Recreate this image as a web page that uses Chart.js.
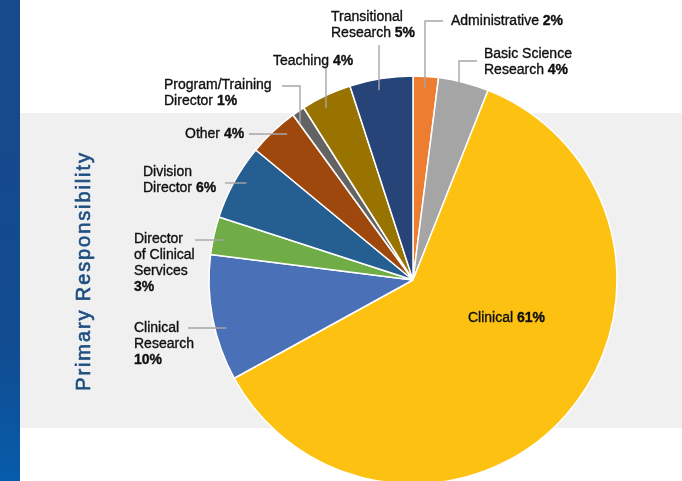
<!DOCTYPE html>
<html>
<head>
<meta charset="utf-8">
<script src="https://cdn.jsdelivr.net/npm/chart.js@4.4.1/dist/chart.umd.min.js"></script>
<style>
  html, body { margin: 0; padding: 0; background: #fff; overflow: hidden; }
  #wrap { position: relative; width: 682px; height: 490px; }
</style>
</head>
<body>
<div id="wrap"><canvas id="pie" width="682" height="490"></canvas></div>
<script>
// data
const categories = ['Administrative', 'Basic Science Research', 'Clinical', 'Clinical Research',
    'Director of Clinical Services', 'Division Director', 'Other', 'Program/Training Director',
    'Teaching', 'Transitional Research'];
const shares = [2, 4, 61, 10, 3, 6, 4, 1, 4, 5];
const sliceColors = ['#ed7d31', '#a5a5a5', '#fdc112', '#4a70b7', '#70ad47', '#255e91',
    '#9e480e', '#636363', '#997300', '#264478'];

// label layout: text lines (the bold value goes after the last line), text left/top,
// leader path (outer end first), leader ends on a ring inside the slice
const labelLayout = [
    { lines: ['Administrative'], x: 451, y: 21, leader: { kind: 'v', from: [443, 21], x: 425 } },
    { lines: ['Basic Science', 'Research'], x: 484, y: 54, leader: { kind: 'v', from: [477, 61], x: 459 } },
    { lines: ['Clinical'], x: 468, y: 318, leader: null },
    { lines: ['Clinical', 'Research', ''], x: 134, y: 328, leader: { kind: 'h', from: [188, 328] } },
    { lines: ['Director', 'of Clinical', 'Services', ''], x: 134, y: 239, leader: { kind: 'h', from: [195, 240] } },
    { lines: ['Division', 'Director'], x: 143, y: 172, leader: { kind: 'h', from: [225, 183] } },
    { lines: ['Other'], x: 185, y: 134, leader: { kind: 'h', from: [249, 134] } },
    { lines: ['Program/Training', 'Director'], x: 164, y: 85, leader: { kind: 'v', from: [282, 86], x: 300 } },
    { lines: ['Teaching'], x: 273, y: 61, leader: { kind: 'v', from: [326, 67], x: 326 } },
    { lines: ['Transitional', 'Research'], x: 331, y: 17, leader: { kind: 'v', from: [379, 45], x: 379 } }
];

const FONT = '"Liberation Sans", Arial, sans-serif';

const backdrop = {
    id: 'backdrop',
    beforeDraw(chart) {
        const ctx = chart.ctx;
        ctx.save();
        ctx.fillStyle = '#ffffff';
        ctx.fillRect(0, 0, chart.width, chart.height);
        ctx.fillStyle = '#f0f0f0';
        ctx.fillRect(20, 113, chart.width - 20, 315);
        const g = ctx.createLinearGradient(0, 0, 0, 481);
        g.addColorStop(0, '#174a8c');
        g.addColorStop(0.7, '#124b8f');
        g.addColorStop(1, '#065cab');
        ctx.fillStyle = g;
        ctx.fillRect(0, 0, 20, chart.height);

        // vertical title
        ctx.translate(84, 271);
        ctx.rotate(-Math.PI / 2);
        ctx.fillStyle = '#1d4e80';
        ctx.strokeStyle = '#1d4e80';
        ctx.lineWidth = 0.6;
        ctx.font = '20px ' + FONT;
        ctx.letterSpacing = '1.9px';
        ctx.textAlign = 'center';
        ctx.textBaseline = 'middle';
        ctx.fillText('Primary Responsibility', 0, 0);
        ctx.strokeText('Primary Responsibility', 0, 0);
        ctx.restore();
    }
};

const sliceLabels = {
    id: 'sliceLabels',
    afterDatasetsDraw(chart) {
        const ctx = chart.ctx;
        const arcs = chart.getDatasetMeta(0).data;
        const cx = arcs[0].x, cy = arcs[0].y;
        const ring = arcs[0].outerRadius * 0.945;
        ctx.save();
        labelLayout.forEach((lab, i) => {
            if (lab.leader) {
                const L = lab.leader;
                ctx.strokeStyle = '#a6a6a6';
                ctx.lineWidth = 1.4;
                ctx.beginPath();
                ctx.moveTo(L.from[0], L.from[1]);
                if (L.kind === 'v') {
                    ctx.lineTo(L.x, L.from[1]);
                    ctx.lineTo(L.x, cy - Math.sqrt(ring * ring - (L.x - cx) ** 2));
                } else {
                    ctx.lineTo(cx - Math.sqrt(ring * ring - (L.from[1] - cy) ** 2), L.from[1]);
                }
                ctx.stroke();
            }
            ctx.fillStyle = '#111111';
            ctx.strokeStyle = '#111111';
            ctx.lineWidth = 0.35;
            ctx.textBaseline = 'middle';
            ctx.textAlign = 'left';
            const value = shares[i] + '%';
            lab.lines.forEach((t, j) => {
                const y = lab.y + j * 16;
                const last = j === lab.lines.length - 1;
                ctx.font = '14px ' + FONT;
                ctx.fillText(t, lab.x, y);
                ctx.strokeText(t, lab.x, y);
                if (last) {
                    const w = t ? ctx.measureText(t + ' ').width : 0;
                    ctx.font = 'bold 14px ' + FONT;
                    ctx.fillText(value, lab.x + w, y);
                    ctx.strokeText(value, lab.x + w, y);
                }
            });
        });
        ctx.restore();
    }
};

new Chart(document.getElementById('pie'), {
    type: 'pie',
    data: {
        labels: categories,
        datasets: [{
            data: shares,
            backgroundColor: sliceColors,
            borderColor: '#ffffff',
            borderWidth: 1.5,
            radius: 204
        }]
    },
    options: {
        responsive: false,
        animation: false,
        layout: { padding: { left: 209, right: 65, top: 76, bottom: 6 } },
        plugins: {
            legend: { display: false },
            tooltip: { enabled: false }
        }
    },
    plugins: [backdrop, sliceLabels]
});
</script>
</body>
</html>
